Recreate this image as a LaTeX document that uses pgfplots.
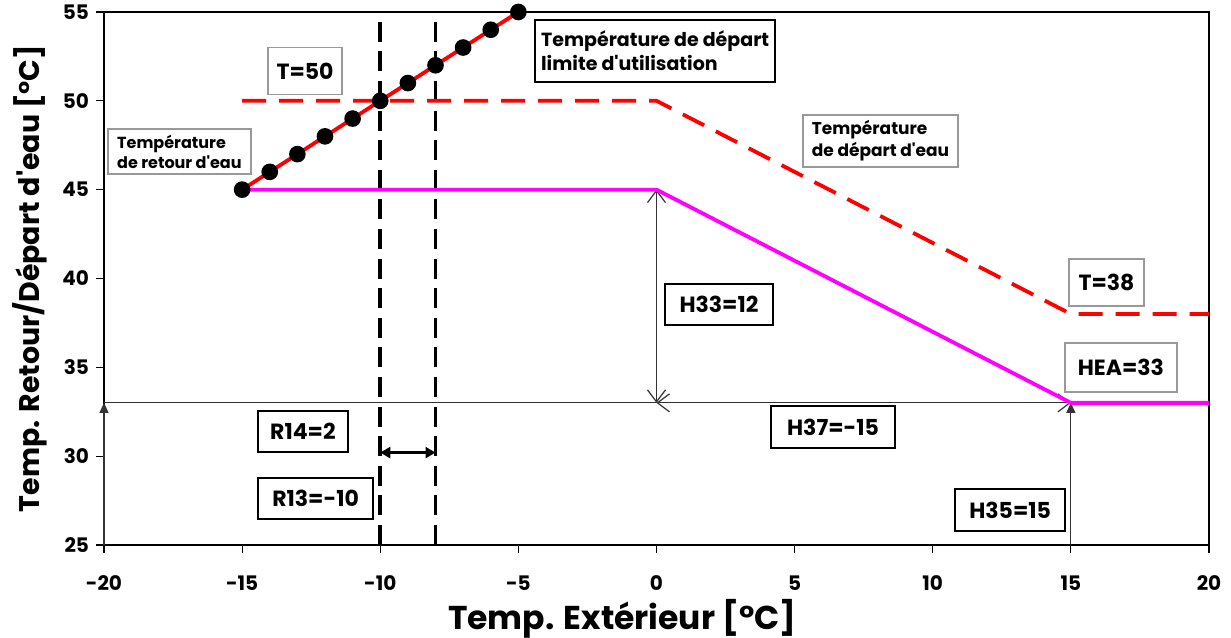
\documentclass[border=0pt]{standalone}
\usepackage{pgfplots}
\pgfplotsset{compat=1.18}
\usepackage{fontspec}
\setmainfont{Poppins}
\usetikzlibrary{arrows.meta}

\definecolor{mag}{RGB}{255,0,255}
\newcommand{\ap}{\textquotesingle}

\tikzset{
  gbox/.style={draw=gray!80, line width=0.8pt, fill=white, inner sep=0pt, align=center},
  kbox/.style={draw=black, line width=0.8pt, fill=white, inner sep=0pt, align=center},
  thin line/.style={black!80, line width=0.6pt},
}

\begin{document}
\begin{tikzpicture}[font=\bfseries]
\begin{axis}[
  scale only axis, width=552.5pt, height=266.5pt,
  xmin=-20, xmax=20, ymin=25, ymax=55,
  xtick={-20,-15,...,20}, ytick={25,30,...,55},
  xticklabels={-20,-15,-10,-5,0,5,10,15,20},
  tick align=outside, tick pos=left, major tick length=4pt,
  tick style={black, line width=0.6pt},
  axis line style={line width=0.8pt},
  /pgf/number format/assume math mode=true,
  ticklabel style={font=\bfseries\fontsize{10}{12}\selectfont},
  xticklabel style={yshift=-8pt},
  xlabel={Temp. Extérieur [°C]},
  ylabel={Temp. Retour/Départ d\ap eau [°C]},
  xlabel style={font=\bfseries\fontsize{16.5}{19}\selectfont, at={(axis description cs:0.469,-0.138)}, anchor=center},
  ylabel style={font=\bfseries\fontsize{14.2}{17}\selectfont, at={(axis description cs:-0.067,0.5)}, anchor=center},
  clip=false,
]

% vertical dashed limits
\addplot[black, line width=1.9pt, dash pattern=on 10pt off 4.8pt] coordinates {(-10,25) (-10,55)};
\addplot[black, line width=1.9pt, dash pattern=on 10pt off 4.8pt] coordinates {(-8,25) (-8,55)};

% construction lines
\addplot[thin line] coordinates {(-20,33) (0,33)};
\addplot[thin line, -{Triangle[length=5pt,width=4.5pt]}] coordinates {(-20,25) (-20,33)};
\addplot[thin line, -{Triangle[length=5pt,width=4.5pt]}] coordinates {(15,25) (15,33)};
\addplot[thin line, {Straight Barb[length=6pt,width=9pt]}-{Straight Barb[length=6pt,width=9pt]}] coordinates {(0,33) (15,33)};
\addplot[thin line, {Straight Barb[length=6pt,width=9pt]}-{Straight Barb[length=6pt,width=9pt]}] coordinates {(0,33) (0,45)};

% R14 arrow
\addplot[black, line width=1.3pt, {Triangle[length=5pt,width=5.5pt]}-{Triangle[length=5pt,width=5.5pt]}] coordinates {(-10,30.2) (-8,30.2)};

% départ d'eau (dashed)
\addplot[red, line width=1.9pt, dash pattern=on 12pt off 6.5pt] coordinates {(-15,50) (0,50) (15,38) (20,38)};
% retour d'eau
\addplot[mag, line width=1.9pt] coordinates {(-15,45) (0,45) (15,33) (20,33)};
% limite d'utilisation
\addplot[red, line width=1.9pt, mark=*, mark size=3.2pt, mark options={black, fill=black}] coordinates {
  (-15,45) (-14,46) (-13,47) (-12,48) (-11,49) (-10,50)
  (-9,51) (-8,52) (-7,53) (-6,54) (-5,55)};

% labels
\node[gbox, minimum width=37pt, minimum height=23.5pt, font=\bfseries\fontsize{11}{13}\selectfont] at (axis cs:-12.72,51.67) {T=50};
\node[gbox, minimum width=71.5pt, minimum height=22.5pt, align=left, font=\bfseries\fontsize{8}{10}\selectfont] at (axis cs:-17.27,47.15) {Température\\de retour d\ap eau};
\node[kbox, minimum width=120pt, minimum height=31pt, align=left, font=\bfseries\fontsize{9.5}{12}\selectfont] at (axis cs:-0.05,52.8) {Température de départ\\limite d\ap utilisation};
\node[gbox, minimum width=77.5pt, minimum height=26pt, align=left, font=\bfseries\fontsize{8.5}{11}\selectfont] at (axis cs:8.11,47.74) {Température\\de départ d\ap eau};
\node[gbox, minimum width=37.5pt, minimum height=23.5pt, font=\bfseries\fontsize{11}{13}\selectfont] at (axis cs:16.29,39.77) {T=38};
\node[gbox, minimum width=56pt, minimum height=24.5pt, font=\bfseries\fontsize{11}{13}\selectfont] at (axis cs:16.81,34.99) {HEA=33};
\node[kbox, minimum width=54pt, minimum height=20.5pt, font=\bfseries\fontsize{11}{13}\selectfont] at (axis cs:2.26,38.54) {H33=12};
\node[kbox, minimum width=62pt, minimum height=21pt, font=\bfseries\fontsize{11}{13}\selectfont] at (axis cs:6.39,31.64) {H37=-15};
\node[kbox, minimum width=45pt, minimum height=20.5pt, font=\bfseries\fontsize{11}{13}\selectfont] at (axis cs:-12.80,31.39) {R14=2};
\node[kbox, minimum width=57.5pt, minimum height=20.5pt, font=\bfseries\fontsize{11}{13}\selectfont] at (axis cs:-12.34,27.62) {R13=-10};
\node[kbox, minimum width=55pt, minimum height=21pt, font=\bfseries\fontsize{11}{13}\selectfont] at (axis cs:12.80,26.97) {H35=15};

\end{axis}
\pgfresetboundingbox
\path ([shift={(-52pt,-46.5pt)}]current axis.south west) rectangle ([shift={(11pt,6pt)}]current axis.north east);
\end{tikzpicture}
\end{document}
